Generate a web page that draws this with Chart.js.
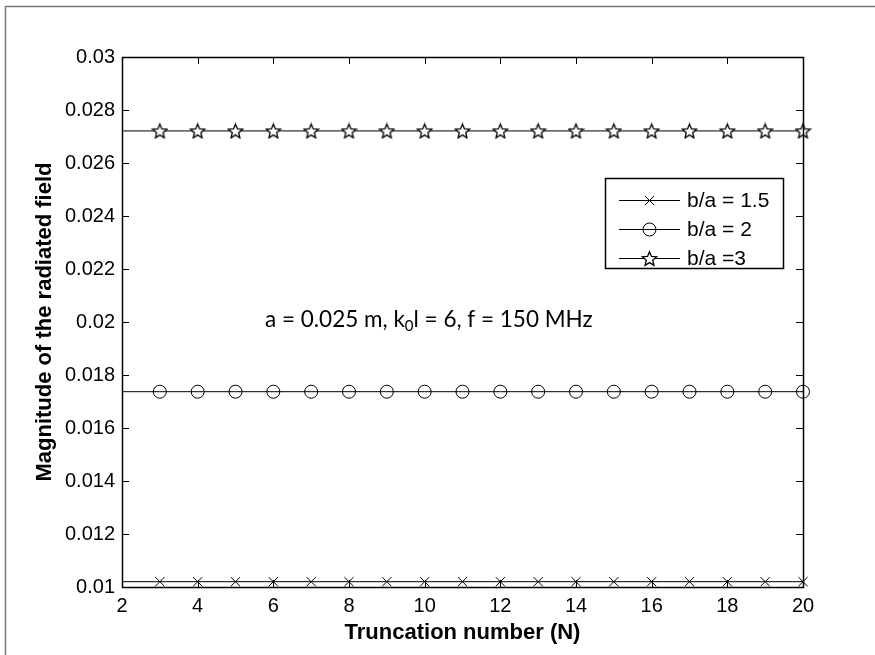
<!DOCTYPE html>
<html>
<head>
<meta charset="utf-8">
<script src="https://cdn.jsdelivr.net/npm/chart.js@4.4.0/dist/chart.umd.min.js"></script>
<style>
  html, body { margin: 0; padding: 0; background: #fff; }
  #wrap { width: 875px; height: 655px; }
</style>
</head>
<body>
<div id="wrap"><canvas id="myChart" width="875" height="655"></canvas></div>
<script>
// truncation number N and field magnitude for each b/a ratio
const nValues = [2, 3, 4, 5, 6, 7, 8, 9, 10, 11, 12, 13, 14, 15, 16, 17, 18, 19, 20];
const ratio15 = [0.0102, 0.0102, 0.0102, 0.0102, 0.0102, 0.0102, 0.0102, 0.0102, 0.0102, 0.0102,
                 0.0102, 0.0102, 0.0102, 0.0102, 0.0102, 0.0102, 0.0102, 0.0102, 0.0102];
const ratio2 = [0.01737, 0.01737, 0.01737, 0.01737, 0.01737, 0.01737, 0.01737, 0.01737, 0.01737, 0.01737,
                0.01737, 0.01737, 0.01737, 0.01737, 0.01737, 0.01737, 0.01737, 0.01737, 0.01737];
const ratio3 = [0.02721, 0.02721, 0.02721, 0.02721, 0.02721, 0.02721, 0.02721, 0.02721, 0.02721, 0.02721,
                0.02721, 0.02721, 0.02721, 0.02721, 0.02721, 0.02721, 0.02721, 0.02721, 0.02721];
const seriesLabels = ["b/a = 1.5", "b/a = 2", "b/a =3"];
const xTicks = [2, 4, 6, 8, 10, 12, 14, 16, 18, 20];
const yTicks = [0.01, 0.012, 0.014, 0.016, 0.018, 0.02, 0.022, 0.024, 0.026, 0.028, 0.03];
const xTitle = "Truncation number (N)";
const yTitle = "Magnitude of the radiated field";

// five point star marker (Chart.js "star" is an asterisk)
function makeStar(size) {
    const c = document.createElement("canvas");
    c.width = size; c.height = size;
    const g = c.getContext("2d");
    const cx = size / 2, cy = size / 2 + 0.7;
    const ro = size / 2 - 1, ri = ro * 0.45;
    g.beginPath();
    for (let i = 0; i < 10; i++) {
        const r = i % 2 === 0 ? ro : ri;
        const a = -Math.PI / 2 + i * Math.PI / 5;
        const px = cx + r * Math.cos(a), py = cy + r * Math.sin(a);
        if (i === 0) g.moveTo(px, py); else g.lineTo(px, py);
    }
    g.closePath();
    g.fillStyle = "#fff";
    g.fill();
    g.lineWidth = 1.3;
    g.strokeStyle = "#000";
    g.stroke();
    return c;
}
const starImg = makeStar(17);

const markers = [
    { pointStyle: "crossRot", radius: 6.5 },
    { pointStyle: "circle", radius: 6.5 },
    { pointStyle: starImg, radius: 8 }
];

function toPoints(ys) {
    return nValues.map((n, i) => ({ x: n, y: ys[i] }));
}

const tickFont = { family: "'Liberation Sans', Arial, sans-serif", size: 20 };
const titleFont = { family: "'Liberation Sans', Arial, sans-serif", size: 22, weight: "bold" };

const boxAndTicks = {
    id: "boxAndTicks",
    beforeDraw(chart) {
        const ctx = chart.ctx;
        ctx.save();
        ctx.fillStyle = "#fff";
        ctx.fillRect(0, 0, chart.width, chart.height);
        ctx.strokeStyle = "#7a7a7a";
        ctx.lineWidth = 1.5;
        ctx.strokeRect(5.5, 6.5, chart.width + 20, chart.height + 20);
        ctx.restore();
    },
    afterDraw(chart) {
        const ctx = chart.ctx;
        const a = chart.chartArea;
        const xs = chart.scales.x, ys = chart.scales.y;
        const len = 7;
        ctx.save();
        ctx.strokeStyle = "#000";
        ctx.lineWidth = 1;
        ctx.beginPath();
        xs.ticks.forEach(t => {
            const px = Math.round(xs.getPixelForValue(t.value)) + 0.5;
            ctx.moveTo(px, a.bottom); ctx.lineTo(px, a.bottom - len);
            ctx.moveTo(px, a.top); ctx.lineTo(px, a.top + len);
        });
        ys.ticks.forEach(t => {
            const py = Math.round(ys.getPixelForValue(t.value)) + 0.5;
            ctx.moveTo(a.left, py); ctx.lineTo(a.left + len, py);
            ctx.moveTo(a.right, py); ctx.lineTo(a.right - len, py);
        });
        ctx.stroke();
        ctx.lineWidth = 1.5;
        ctx.strokeRect(Math.round(a.left) + 0.5, Math.round(a.top) + 0.5,
                       Math.round(a.right - a.left), Math.round(a.bottom - a.top));

        // annotation
        ctx.fillStyle = "#000";
        ctx.textBaseline = "alphabetic";
        ctx.textAlign = "left";
        let x = 265;
        const base = 327;
        ctx.font = "22.5px Lato, 'Open Sans', sans-serif";
        const part1 = "a = 0.025 m, k";
        ctx.fillText(part1, x, base);
        x += ctx.measureText(part1).width;
        ctx.font = "15px Lato, 'Open Sans', sans-serif";
        ctx.fillText("0", x, base + 4);
        x += ctx.measureText("0").width;
        ctx.font = "22.5px Lato, 'Open Sans', sans-serif";
        ctx.fillText("l = 6, f = 150 MHz", x, base);

        // legend
        const L = 605, T = 178, W = 178, H = 90;
        ctx.fillStyle = "#fff";
        ctx.fillRect(L, T, W, H);
        ctx.lineWidth = 1.5;
        ctx.strokeStyle = "#000";
        ctx.strokeRect(L + 0.5, T + 0.5, W, H);
        const rows = [200, 229, 258];
        ctx.font = "21px 'Liberation Sans', Arial, sans-serif";
        ctx.textBaseline = "middle";
        chart.data.datasets.forEach((ds, i) => {
            const y = rows[i] + 0.5;
            ctx.lineWidth = 1;
            ctx.strokeStyle = "#000";
            ctx.beginPath();
            ctx.moveTo(619, y); ctx.lineTo(680, y);
            ctx.stroke();
            ctx.fillStyle = "rgba(255,255,255,0)";
            Chart.helpers.drawPoint(ctx, {
                pointStyle: markers[i].pointStyle, radius: markers[i].radius,
                rotation: 0, borderWidth: 1
            }, 649.5, y);
            ctx.fillStyle = "#000";
            ctx.fillText(ds.label, 687, y + 1);
        });
        ctx.restore();
    }
};

new Chart("myChart", {
    type: "line",
    data: {
        datasets: [ratio15, ratio2, ratio3].map((ys, i) => ({
            label: seriesLabels[i],
            data: toPoints(ys),
            borderColor: "#000",
            borderWidth: 1,
            backgroundColor: "#fff",
            pointBorderColor: "#000",
            pointBackgroundColor: "rgba(255,255,255,0)",
            pointBorderWidth: 1,
            pointStyle: markers[i].pointStyle,
            pointRadius: ctx => ctx.dataIndex === 0 ? 0 : markers[i].radius,
            tension: 0,
            clip: false
        }))
    },
    options: {
        responsive: false,
        animation: false,
        events: [],
        layout: { padding: { left: 0, right: 72, top: 57, bottom: 0 } },
        plugins: { legend: { display: false }, tooltip: { enabled: false } },
        scales: {
            x: {
                type: "linear",
                min: 2, max: 20,
                afterBuildTicks: s => { s.ticks = xTicks.map(v => ({ value: v })); },
                afterFit: s => { s.height = 68; },
                grid: { display: false, drawTicks: false },
                border: { display: false },
                ticks: { color: "#000", font: tickFont, padding: 7, maxRotation: 0 },
                title: { display: true, text: xTitle, color: "#000", font: titleFont, padding: { top: 0, bottom: 9 } }
            },
            y: {
                type: "linear",
                min: 0.01, max: 0.03,
                afterBuildTicks: s => { s.ticks = yTicks.map(v => ({ value: v })); },
                afterFit: s => { s.width = 122; },
                grid: { display: false, drawTicks: false },
                border: { display: false },
                ticks: { color: "#000", font: tickFont, padding: 7, callback: v => String(+v.toFixed(3)) },
                title: { display: true, text: yTitle, color: "#000", font: titleFont, padding: { top: 32, bottom: 0 } }
            }
        }
    },
    plugins: [boxAndTicks]
});
</script>
</body>
</html>
